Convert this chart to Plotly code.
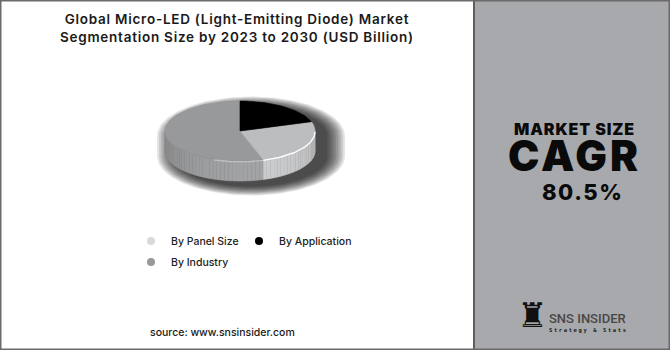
import numpy as np
import plotly.graph_objects as go

# Segment shares (USD Billion split, percent of total)
categories = ["By Panel Size", "By Application", "By Industry"]
shares = [25, 20, 55]
top_colors = ["#bcbdbf", "#000000", "#98999b"]
side_colors = ["#cacbcd", "#1a1a1a", "#a2a3a5"]
legend_colors = ["#d8d9da", "#000000", "#98999b"]
legend_slots = ["legend", "legend3", "legend2"]

# Slices are laid out counter-clockwise from 12 o'clock in this order
draw_order = ["By Industry", "By Panel Size", "By Application"]

title_lines = ["Global Micro-LED (Light-Emitting Diode) Market",
               "Segmentation Size by 2023 to 2030 (USD Billion)"]
kpi_label = "MARKET SIZE"
kpi_name = "CAGR"
kpi_value = "80.5%"
source_text = "source: www.snsinsider.com"
brand_name = "SNS INSIDER"
brand_tagline = "Strategy & Stats"

W, H = 670, 350
PANEL_X = 474

# 3D pie geometry (pixel space)
CX, CY, RX, RY, DEPTH = 240, 131, 75, 30, 20

FONT = "Inter, Open Sans, sans-serif"


def ellipse_pt(theta_deg, rx=RX, ry=RY, dy=0.0, cx=CX, cy=CY):
    t = np.radians(theta_deg)
    return cx + rx * np.cos(t), cy - ry * np.sin(t) + dy


def shade(hex_color, f):
    h = hex_color.lstrip("#")
    r, g, b = (int(h[i:i + 2], 16) for i in (0, 2, 4))
    r, g, b = (max(0, min(255, int(round(c * f)))) for c in (r, g, b))
    return f"rgb({r},{g},{b})"


def spaced(text, px):
    return f"<span style='letter-spacing:{px}px'>{text}</span>"


fig = go.Figure()

# Soft drop shadow behind the disc
for k in range(11):
    grow = 1 + k * 1.8
    th = np.linspace(0, 360, 181)
    xs, ys = [], []
    for a in th:
        dy = 0 if np.sin(np.radians(a)) >= 0 else DEPTH
        x, y = ellipse_pt(a, RX + grow, RY + grow * 0.5, dy, CX + 11, CY + 5)
        xs.append(x)
        ys.append(y)
    fig.add_trace(go.Scatter(x=xs, y=ys, mode="lines", fill="toself",
                             fillcolor="rgba(0,0,0,0.1)", line=dict(width=0),
                             hoverinfo="skip", showlegend=False))

# Angular extent of each slice
total = float(sum(shares))
spans = {}
start = 90.0
for name in draw_order:
    i = categories.index(name)
    end = start + shares[i] / total * 360.0
    spans[name] = (start, end)
    start = end

# Side walls (front half only), shaded by angle
for name in draw_order:
    i = categories.index(name)
    a1, a2 = spans[name]
    for lo, hi in ((180.0, 360.0), (540.0, 720.0)):
        s, e = max(a1, lo), min(a2, hi)
        if e <= s:
            continue
        n = max(2, int((e - s) / 3))
        edges = np.linspace(s, e, n + 1)
        for t0, t1 in zip(edges[:-1], edges[1:]):
            tm = 0.5 * (t0 + t1)
            f = 0.86 + 0.14 * np.cos(np.radians(tm - 285))
            col = shade(side_colors[i], f)
            seg = np.linspace(t0, t1, 4)
            xt, yt = ellipse_pt(seg)
            xb, yb = ellipse_pt(seg[::-1], dy=DEPTH)
            fig.add_trace(go.Scatter(
                x=list(xt) + list(xb), y=list(yt) + list(yb), mode="lines",
                fill="toself", fillcolor=col, line=dict(width=0.6, color=col),
                hoverinfo="skip", showlegend=False))

# Top faces
for name in draw_order:
    i = categories.index(name)
    a1, a2 = spans[name]
    th = np.linspace(a1, a2, max(8, int((a2 - a1) / 2)))
    xs, ys = ellipse_pt(th)
    fig.add_trace(go.Scatter(
        x=[CX] + list(xs) + [CX], y=[CY] + list(ys) + [CY], mode="lines",
        fill="toself", fillcolor=top_colors[i],
        line=dict(width=0.6, color=top_colors[i]),
        name=name, hoverinfo="skip", showlegend=False))

# Bevel highlight along the front rim
for name, alpha in (("By Panel Size", 0.95), ("By Industry", 0.35)):
    a1, a2 = spans[name]
    s, e = max(a1, 250.0), min(a2, 360.0)
    th = np.linspace(s, e, 40)
    xs, ys = ellipse_pt(th, dy=0.8)
    fig.add_trace(go.Scatter(x=xs, y=ys, mode="lines",
                             line=dict(color=f"rgba(255,255,255,{alpha})", width=1.4),
                             hoverinfo="skip", showlegend=False))

# Legend entries, one legend box per entry
for i, name in enumerate(categories):
    fig.add_trace(go.Scatter(
        x=[None], y=[None], mode="markers", name=name,
        marker=dict(color=legend_colors[i], size=8, symbol="circle"),
        legend=legend_slots[i]))

# KPI block: label and headline share one text element
kpi_block = (f"<span style='font-size:16px;letter-spacing:0.9px'>{kpi_label}</span><br>"
             f"<span style='font-size:42px;letter-spacing:3px'>{kpi_name}</span>")

annotations = [
    dict(x=237, y=28, text="<br>".join(spaced(t, 0.75) for t in title_lines),
         font=dict(family=FONT, size=13.5, color="#1a1a1a", weight=600)),
    dict(x=574, y=116.5, text=kpi_block, yanchor="top",
         font=dict(family=FONT, size=27.5, color="#0a0a0a", weight=900)),
    dict(x=582, y=192, text=spaced(kpi_value, 1.5),
         font=dict(family=FONT, size=22, color="#0a0a0a", weight=800)),
    dict(x=222, y=332, text=source_text,
         font=dict(family=FONT, size=10.5, color="#1a1a1a", weight=500)),
    dict(x=532, y=315, text="\u265C",
         font=dict(family="DejaVu Sans", size=34, color="#111111")),
    dict(x=587, y=318.5, text=brand_name,
         font=dict(family="Roboto", size=13, color="#474747", weight=500)),
    dict(x=588, y=330, text=spaced(brand_tagline, 1.6),
         font=dict(family="DejaVu Sans Mono", size=5.5, color="#1a1a1a", weight=700)),
]
for a in annotations:
    a.update(xref="x", yref="y", showarrow=False, xanchor="center")
    a.setdefault("yanchor", "middle")

shapes = [
    dict(type="rect", xref="x", yref="y", x0=PANEL_X, x1=W, y0=0, y1=H,
         fillcolor="#a8a9ac", line=dict(width=0), layer="below"),
    dict(type="line", xref="x", yref="y", x0=PANEL_X, x1=PANEL_X, y0=0, y1=H,
         line=dict(color="#5e5e5e", width=2), layer="above"),
    dict(type="rect", xref="x", yref="y", x0=0.5, x1=W - 0.5, y0=0.5, y1=H - 0.5,
         line=dict(color="#6a6a6a", width=2), layer="above"),
]

legend_font = dict(family=FONT, size=10.5, color="#222222", weight=500)


def legend_box(dot_x, row_y):
    return dict(orientation="h", x=(dot_x - 20) / W, y=1 - row_y / H,
                xanchor="left", yanchor="middle", font=legend_font,
                bgcolor="rgba(0,0,0,0)", itemwidth=30)


fig.update_layout(
    width=W, height=H, margin=dict(l=0, r=0, t=0, b=0),
    paper_bgcolor="#ffffff", plot_bgcolor="#ffffff",
    xaxis=dict(range=[0, W], visible=False, fixedrange=True),
    yaxis=dict(range=[H, 0], visible=False, fixedrange=True),
    annotations=annotations, shapes=shapes,
    legend=legend_box(151, 241),
    legend3=legend_box(259, 241),
    legend2=legend_box(151, 262),
    showlegend=True,
)

fig.write_html("out.html")
